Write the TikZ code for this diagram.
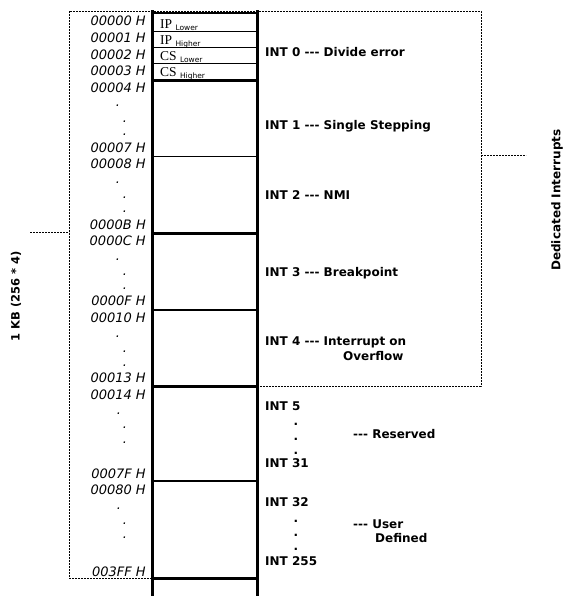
\documentclass[tikz,border=0pt]{standalone}
\usepackage{fontspec}
\setmainfont{DejaVu Sans}
\newfontfamily\ipfont{Liberation Serif}
\newcommand{\tdash}{-{}-{}-}
\begin{document}
\begin{tikzpicture}[x=1pt,y=-1pt,
  addr/.style={anchor=base east,inner sep=0pt,font=\fontsize{13}{13}\itshape\selectfont},
  adot/.style={anchor=base,inner sep=0pt,font=\fontsize{13}{13}\itshape\selectfont},
  lbl/.style={anchor=base west,inner sep=0pt,font=\fontsize{12}{12}\bfseries\selectfont},
  ldot/.style={anchor=base,inner sep=0pt,font=\fontsize{12}{12}\bfseries\selectfont},
  cell/.style={anchor=base west,inner sep=0pt},
  thick line/.style={line width=3pt},
  mid line/.style={line width=2pt},
  thin line/.style={line width=1.4pt},
  dotline/.style={line width=0.9pt,dash pattern=on 1.6pt off 1.4pt},
  side/.style={inner sep=0pt,rotate=90,font=\fontsize{12}{12}\bfseries\selectfont}]
\useasboundingbox (0,0) rectangle (567,603);
% dotted boxes
\coordinate (tl) at (69,11);
\coordinate (tr) at (481,11);
\coordinate (br) at (481,386);
\coordinate (bm) at (258,386);
\coordinate (bl) at (69,578);
\coordinate (blm) at (152,578);
\draw[dotline] (blm) -- (bl) -- (tl) -- (tr) -- (br) -- (bm);
\coordinate (lt1) at (30,232);
\coordinate (lt2) at (69,232);
\coordinate (rt1) at (481,155);
\coordinate (rt2) at (526,155);
\draw[dotline] (lt1) -- (lt2);
\draw[dotline] (rt1) -- (rt2);
% column
\draw[thick line] (152,10) -- (152,596);
\draw[thick line] (257,10) -- (257,596);
\draw[mid line] (152,13) -- (257,13);
\draw[thin line] (152,31.5) -- (257,31.5);
\draw[thin line] (152,47.5) -- (257,47.5);
\draw[thin line] (152,63.5) -- (257,63.5);
\draw[thick line] (152,80.5) -- (257,80.5);
\draw[thin line] (152,156.5) -- (257,156.5);
\draw[thick line] (152,233) -- (257,233);
\draw[mid line] (152,309.5) -- (257,309.5);
\draw[thick line] (152,386) -- (257,386);
\draw[mid line] (152,481) -- (257,481);
\draw[thick line] (152,578.5) -- (257,578.5);
% cells
\node[cell] (c0) at (160,28) {\fontsize{13.5}{13.5}\ipfont IP \raisebox{-2.5pt}{\fontsize{7.5}{7.5}\rmfamily\selectfont Lower}};
\node[cell] (c1) at (160,44) {\fontsize{13.5}{13.5}\ipfont IP \raisebox{-2.5pt}{\fontsize{7.5}{7.5}\rmfamily\selectfont Higher}};
\node[cell] (c2) at (160,60) {\fontsize{13.5}{13.5}\ipfont CS \raisebox{-2.5pt}{\fontsize{7.5}{7.5}\rmfamily\selectfont Lower}};
\node[cell] (c3) at (160,76) {\fontsize{13.5}{13.5}\ipfont CS \raisebox{-2.5pt}{\fontsize{7.5}{7.5}\rmfamily\selectfont Higher}};
% addresses
\node[addr] (a0) at (146,25.5) {00000 H};
\node[addr] (a1) at (146,42.5) {00001 H};
\node[addr] (a2) at (146,59) {00002 H};
\node[addr] (a3) at (146,75.5) {00003 H};
\node[addr] (a4) at (146,92.5) {00004 H};
\node[adot] (d41) at (118,106) {.};
\node[adot] (d42) at (125,122) {.};
\node[adot] (d43) at (125,135) {.};
\node[addr] (a7) at (146,152.5) {00007 H};
\node[addr] (a8) at (146,168.5) {00008 H};
\node[adot] (d81) at (118,183) {.};
\node[adot] (d82) at (125,198) {.};
\node[adot] (d83) at (125,212) {.};
\node[addr] (aB) at (146,229.5) {0000B H};
\node[addr] (aC) at (146,245.5) {0000C H};
\node[adot] (dC1) at (118,260) {.};
\node[adot] (dC2) at (125,275) {.};
\node[adot] (dC3) at (125,289) {.};
\node[addr] (aF) at (146,305.5) {0000F H};
\node[addr] (a10) at (146,322.5) {00010 H};
\node[adot] (d101) at (118,337) {.};
\node[adot] (d102) at (125,352) {.};
\node[adot] (d103) at (125,366) {.};
\node[addr] (a13) at (146,382.5) {00013 H};
\node[addr] (a14) at (146,399.5) {00014 H};
\node[adot] (d141) at (119,414) {.};
\node[adot] (d142) at (125,428) {.};
\node[adot] (d143) at (125,443) {.};
\node[addr] (a7F) at (146,478) {0007F H};
\node[addr] (a80) at (146,494.5) {00080 H};
\node[adot] (d801) at (119,509) {.};
\node[adot] (d802) at (125,524) {.};
\node[adot] (d803) at (125,538) {.};
\node[addr] (a3FF) at (146,576) {003FF H};
% interrupt labels
\node[lbl] (i0) at (265,56.5) {INT 0 \tdash{} Divide error};
\node[lbl] (i1) at (265,129.5) {INT 1 \tdash{} Single Stepping};
\node[lbl] (i2) at (265,199.5) {INT 2 \tdash{} NMI};
\node[lbl] (i3) at (265,276.5) {INT 3 \tdash{} Breakpoint};
\node[lbl] (i4) at (265,345.5) {INT 4 \tdash{} Interrupt on};
\node[lbl] (i4b) at (343,360.5) {Overflow};
\node[lbl] (i5) at (265,410.5) {INT 5};
\node[ldot] (r1) at (296,425) {.};
\node[ldot] (r2) at (296,440) {.};
\node[ldot] (r3) at (296,454) {.};
\node[lbl] (rs) at (353,438.5) {\tdash{} Reserved};
\node[lbl] (i31) at (265,467.5) {INT 31};
\node[lbl] (i32) at (265,506) {INT 32};
\node[ldot] (u1) at (296,522) {.};
\node[ldot] (u2) at (296,536) {.};
\node[ldot] (u3) at (296,550) {.};
\node[lbl] (us) at (353,528.5) {\tdash{} User};
\node[lbl] (ud) at (375,542.5) {Defined};
\node[lbl] (i255) at (265,565) {INT 255};
% side labels
\node[side,font=\fontsize{11.5}{11.5}\bfseries\selectfont] (kb) at (16,296) {1 KB (256 * 4)};
\node[side] (ded) at (557,200) {Dedicated Interrupts};
\end{tikzpicture}
\end{document}
